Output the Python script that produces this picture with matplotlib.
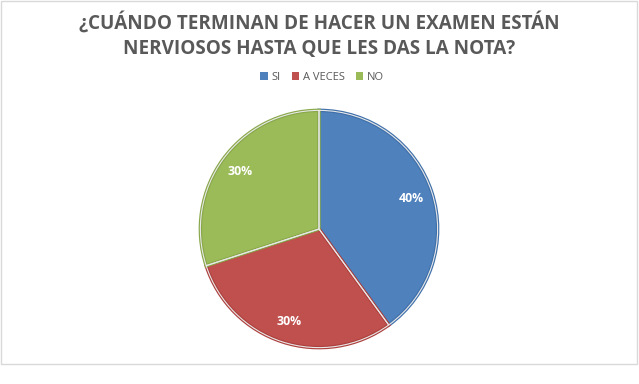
import matplotlib
matplotlib.use("Agg")
import matplotlib.pyplot as plt
from matplotlib.patches import Rectangle

categories = ["SI", "A VECES", "NO"]
values = [40, 30, 30]
colors = ["#4f81bd", "#c0504d", "#9bbb59"]
edges = ["#3f70aa", "#ad403d", "#89a84a"]
title = "¿CUÁNDO TERMINAN DE HACER UN EXAMEN ESTÁN\nNERVIOSOS HASTA QUE LES DAS LA NOTA?"

W, H = 639, 384
fig = plt.figure(figsize=(W / 100, H / 100), dpi=100)
fig.patch.set_facecolor("white")

# chart border
fig.add_artist(Rectangle((1 / W, (H - 364) / H), 636 / W, 363 / H,
                         transform=fig.transFigure, fill=False,
                         edgecolor="#d9d9d9", linewidth=1))

fig.text(319 / W, 1 - 35.5 / H, title, ha="center", va="center",
         fontsize=13.6, fontweight="bold", family=["Open Sans", "DejaVu Sans"],
         color="#595959", linespacing=1.4)

cx, cy, r = 319, H - 229, 121
ax = fig.add_axes([(cx - r) / W, (cy - r) / H, 2 * r / W, 2 * r / H])
wedges, texts, autotexts = ax.pie(
    values, colors=colors, startangle=90, counterclock=False,
    autopct="%1.0f%%", pctdistance=0.82, radius=1,
    wedgeprops=dict(linewidth=1.2, edgecolor="white"),
    textprops=dict(color="white", fontsize=8.8, fontweight="bold",
                   family=["Open Sans", "DejaVu Sans"]))
for w, e in zip(wedges, edges):
    w.set_edgecolor(e)
    w.set_linewidth(2.5)
# thin light separators
ax.pie(values, colors=["none"] * 3, startangle=90, counterclock=False,
       radius=1, wedgeprops=dict(linewidth=0.8, edgecolor="#e8e8e8", fill=False))
ax.set_xlim(-1.02, 1.02)
ax.set_ylim(-1.02, 1.02)
ax.set_aspect("equal")
ax.axis("off")

leg = fig.legend(wedges, categories, loc="center", bbox_to_anchor=(322 / W, 1 - 77 / H),
                 ncol=3, frameon=False, handlelength=0.7, handleheight=0.7,
                 handletextpad=0.3, columnspacing=1.0,
                 prop=dict(family=["Open Sans", "DejaVu Sans"], size=8))
for t in leg.get_texts():
    t.set_color("#595959")
for h in leg.legend_handles:
    h.set_linewidth(0)

fig.savefig("out.png", dpi=100, facecolor="white")
